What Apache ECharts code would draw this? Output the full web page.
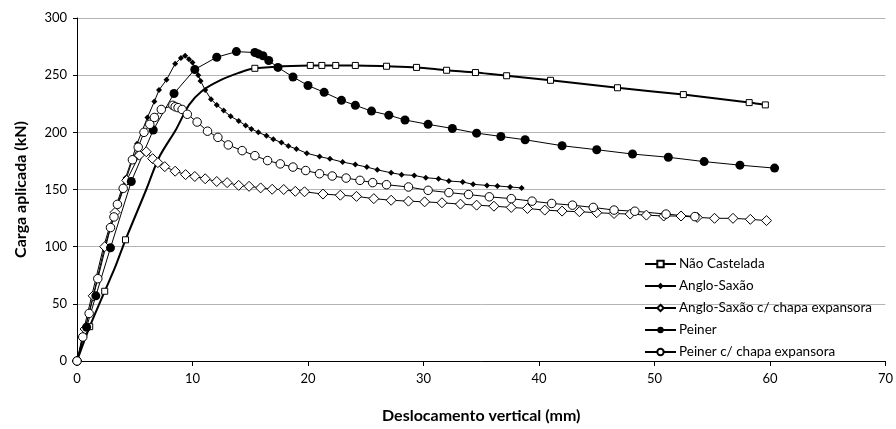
<!DOCTYPE html>
<html>
<head>
<meta charset="utf-8">
<script src="https://cdn.jsdelivr.net/npm/echarts@6/dist/echarts.min.js"></script>
<style>html,body{margin:0;padding:0;background:#fff}#c{width:896px;height:429px}</style>
</head>
<body>
<div id="c"></div>
<script>
// ---- data ----
const seriesNames = ['Não Castelada', 'Anglo-Saxão', 'Anglo-Saxão c/ chapa expansora', 'Peiner', 'Peiner c/ chapa expansora'];
const xTicks = [0, 10, 20, 30, 40, 50, 60, 70];
const yTicks = [0, 50, 100, 150, 200, 250, 300];

// Não Castelada: measured points (with markers)
const naoMarked = [[0,0],[1.1,30],[2.4,61],[4.2,106],[15.4,256],[20.2,258.5],[21.2,258.5],[22.4,258.5],[24.1,258.5],[26.8,257.8],[29.4,256.8],[32.0,254.3],[34.5,252.3],[37.2,249.5],[41.0,245.5],[46.8,239],[52.5,233],[58.2,226],[59.6,224]];
// Não Castelada: curve points shown without markers
const naoCurve = [[3.3,82],[6.0,150],[7.1,178],[8.6,203],[9.7,224],[10.8,236],[12.3,245],[14.0,252]];

const angloSaxao = [[0,0],[0.6,28],[1.3,58],[2.3,100],[3.2,130],[4.2,160],[5.2,190],[6.1,213],[6.7,227],[7.1,237],[7.75,246],[8.5,260],[9.0,265],[9.36,267],[9.7,264],[10.0,261],[10.3,256],[10.5,250],[10.7,245],[11.1,237],[11.6,229],[12.1,224],[12.7,219],[13.3,214],[14.0,210],[14.6,206],[15.1,203],[15.7,200],[16.4,197],[17.0,194],[17.7,191],[18.3,188],[19.0,185.5],[19.9,181.7],[21.0,178.8],[21.9,176.8],[23.0,174],[24.1,171.8],[25.1,169.6],[26.0,167.2],[27.2,164.6],[28.1,163],[29.2,162.3],[30.2,160.3],[31.3,159.4],[32.2,157.4],[33.4,156.6],[34.3,154.5],[35.5,153.6],[36.4,153.1],[37.5,152.2],[38.5,151.4]];

const angloChapa = [[0,0],[0.7,28],[1.4,57],[2.4,100],[3.3,130],[4.3,158],[5.4,180],[6.0,183],[6.55,177],[7.0,173.5],[7.6,170],[8.5,166],[9.4,163],[10.2,161.4],[11.1,159.4],[12.1,157],[13.0,156],[14.0,153.6],[14.9,152.8],[15.9,151.4],[16.9,150.2],[17.9,150],[18.9,148.4],[19.7,148],[21.3,146],[22.8,145],[24.2,144],[25.7,142],[27.2,140.6],[28.7,139.8],[30.1,139.2],[31.6,138.4],[33.2,137.2],[34.6,136.3],[36.1,135.4],[37.6,134.3],[39.0,133.4],[40.5,132],[42.0,131.1],[43.5,130.6],[45.0,129.7],[46.5,129],[47.9,128.5],[49.3,127.6],[50.8,126.8],[52.3,126.8],[53.7,125.6],[55.2,124.8],[56.8,124.8],[58.3,123.9],[59.7,122.8]];

const peiner = [[0,0],[0.83,29.5],[1.63,57],[2.9,99],[4.7,157],[6.6,202],[8.4,234],[10.2,255],[12.1,265.7],[13.8,270.6],[15.4,269.8],[15.7,268.6],[16.1,267],[16.6,262.8],[17.4,256.8],[18.7,248.4],[20.0,241],[21.4,235],[22.9,228],[24.1,223.6],[25.5,218.6],[27.0,215],[28.4,210.8],[30.4,207],[32.5,203.4],[34.6,199.3],[36.7,196.4],[38.8,193.5],[42.0,188.3],[45.0,184.8],[48.1,181],[51.2,178.2],[54.3,174.4],[57.4,171.3],[60.4,168.7]];

const peinerChapa = [[0,0],[0.5,21],[1.05,41.6],[1.8,72],[2.9,116.7],[3.2,126],[3.5,137],[4.0,151],[4.8,176],[5.3,187],[5.8,200],[6.3,207],[6.7,213],[7.3,220],[8.3,223.6],[8.5,222.4],[8.75,221.6],[9.1,220],[9.55,215.8],[10.4,209],[11.3,201],[12.2,195.6],[13.1,189],[14.3,184],[15.4,179.6],[16.5,175.3],[17.6,172.4],[18.7,169.6],[19.8,166.6],[21.0,163.8],[22.1,161.8],[23.3,160],[24.5,158],[25.6,156],[26.8,154.2],[28.7,152.2],[30.4,149.3],[32.2,147.3],[33.9,145.6],[35.7,143.6],[37.6,142],[39.4,139.8],[41.1,137.8],[42.9,136.3],[44.7,134.3],[46.5,132],[48.3,131],[51.0,128.5],[53.5,126.3]];

// ---- build ----
const naoData = naoMarked.map(p => ({value: p}))
  .concat(naoCurve.map(p => ({value: p, symbol: 'none'})))
  .sort((a, b) => a.value[0] - b.value[0]);

const FONT = 'Lato, "Open Sans", sans-serif';
const chart = echarts.init(document.getElementById('c'), null, {renderer: 'canvas'});
chart.setOption({
  animation: false,
  backgroundColor: '#fff',
  grid: {left: 77, right: 7, top: 18, bottom: 65},
  xAxis: {
    type: 'value', min: xTicks[0], max: xTicks[xTicks.length - 1], interval: 10,
    name: 'Deslocamento vertical (mm)', nameLocation: 'middle', nameGap: 47,
    nameTextStyle: {fontFamily: FONT, fontWeight: 'bold', fontSize: 16, color: '#000'},
    axisLine: {lineStyle: {color: '#000', width: 1}},
    axisTick: {show: true, length: 5, lineStyle: {color: '#000'}},
    axisLabel: {fontFamily: FONT, fontSize: 13, color: '#000', margin: 11},
    splitLine: {show: false}
  },
  yAxis: {
    type: 'value', min: yTicks[0], max: yTicks[yTicks.length - 1], interval: 50,
    name: 'Carga aplicada (kN)', nameLocation: 'middle', nameGap: 48,
    nameTextStyle: {fontFamily: FONT, fontWeight: 'bold', fontSize: 16, color: '#000'},
    axisLine: {show: true, lineStyle: {color: '#000', width: 1}},
    axisTick: {show: true, length: 4, lineStyle: {color: '#000'}},
    axisLabel: {fontFamily: FONT, fontSize: 13, color: '#000', margin: 10},
    splitLine: {show: true, lineStyle: {color: '#b4b4b4', width: 1}}
  },
  legend: {
    orient: 'vertical', left: 639, top: 252, itemWidth: 31, itemHeight: 8, itemGap: 8,
    textStyle: {fontFamily: FONT, fontSize: 13.5, color: '#000', padding: [0, 0, 0, -2]},
    data: seriesNames
  },
  series: [
    {
      name: seriesNames[0], type: 'line', data: naoData, smooth: 0.3,
      lineStyle: {color: '#000', width: 2},
      symbol: 'rect', symbolSize: 6,
      itemStyle: {color: '#fff', borderColor: '#000', borderWidth: 1}
    },
    {
      name: seriesNames[1], type: 'line', data: angloSaxao,
      lineStyle: {color: '#000', width: 1},
      symbol: 'diamond', symbolSize: 6,
      itemStyle: {color: '#000', borderColor: '#000', borderWidth: 0}
    },
    {
      name: seriesNames[2], type: 'line', data: angloChapa,
      lineStyle: {color: '#000', width: 1},
      symbol: 'diamond', symbolSize: 10,
      itemStyle: {color: '#fff', borderColor: '#000', borderWidth: 1}
    },
    {
      name: seriesNames[3], type: 'line', data: peiner,
      lineStyle: {color: '#000', width: 1},
      symbol: 'circle', symbolSize: 9,
      itemStyle: {color: '#000', borderColor: '#000', borderWidth: 0}
    },
    {
      name: seriesNames[4], type: 'line', data: peinerChapa,
      lineStyle: {color: '#000', width: 1},
      symbol: 'circle', symbolSize: 8.5,
      itemStyle: {color: '#fff', borderColor: '#000', borderWidth: 1}
    }
  ]
});
</script>
</body>
</html>
